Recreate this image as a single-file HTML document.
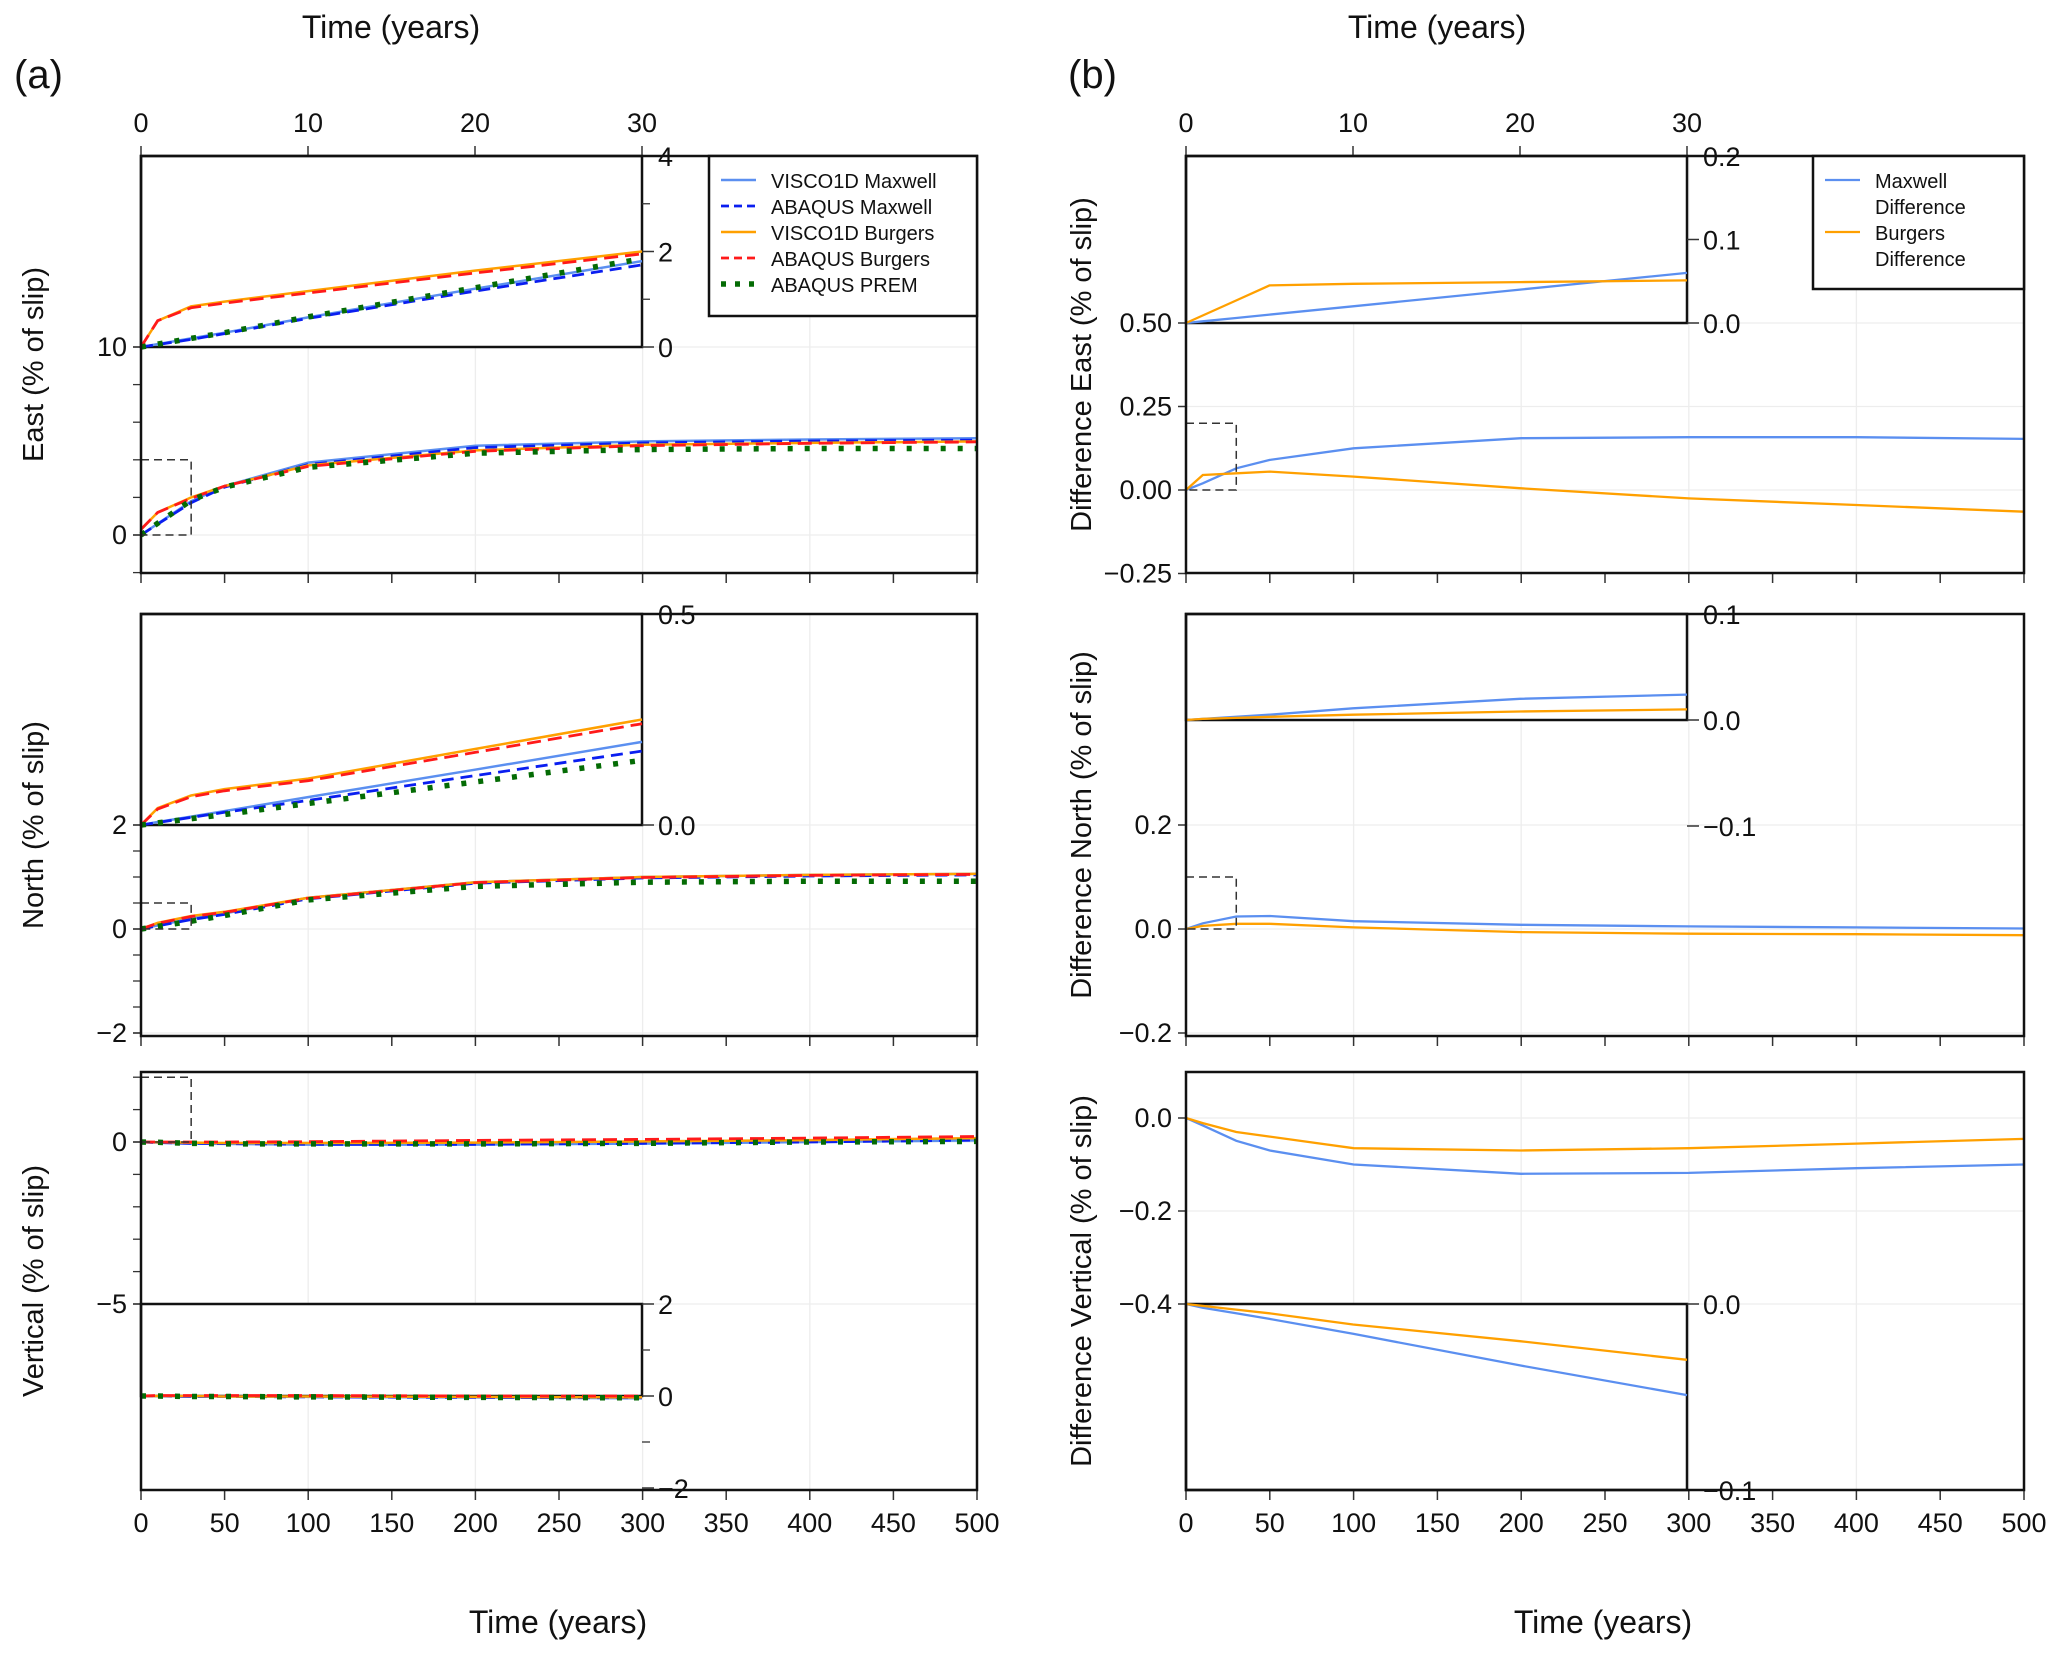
<!DOCTYPE html>
<html><head><meta charset="utf-8">
<style>
body{margin:0;background:#fff;}
svg{display:block;}
text{font-family:"Liberation Sans Narrow","Liberation Sans",sans-serif;fill:#111;}
.ttl{font-family:"Liberation Sans",sans-serif;}
</style></head>
<body>
<svg id="fig" width="2067" height="1655" viewBox="0 0 2067 1655" xmlns="http://www.w3.org/2000/svg"></svg>
<script>
// ---- data ----
const tMain=[0,10,30,50,100,200,300,400,500];
const tIn=[0,1,3,5,10,20,30];
// East (a)
const eViscoMax=[0,0.6,1.8,2.6,3.85,4.75,4.98,5.08,5.15];
const eAbqMax=[0,0.58,1.72,2.55,3.75,4.65,4.9,5.0,5.05];
const eViscoBur=[0.3,1.2,2.0,2.6,3.7,4.5,4.8,4.9,4.98];
const eAbqBur=[0.3,1.2,1.95,2.6,3.65,4.45,4.75,4.88,4.95];
const ePrem=[0,0.62,1.85,2.55,3.6,4.35,4.55,4.6,4.6];
const eInViscoMax=[0,0.06,0.18,0.3,0.62,1.22,1.8];
const eInAbqMax=[0,0.05,0.16,0.28,0.6,1.17,1.72];
const eInViscoBur=[0,0.55,0.85,0.95,1.17,1.6,2.0];
const eInAbqBur=[0,0.55,0.82,0.92,1.13,1.55,1.95];
const eInPrem=[0,0.06,0.18,0.3,0.63,1.24,1.85];
// North (a)
const nViscoMax=[0,0.07,0.2,0.3,0.6,0.9,1.0,1.04,1.06];
const nAbqMax=[0,0.06,0.18,0.28,0.58,0.88,0.98,1.02,1.04];
const nViscoBur=[0,0.12,0.25,0.33,0.6,0.9,1.0,1.04,1.06];
const nAbqBur=[0,0.11,0.24,0.32,0.59,0.89,0.99,1.03,1.05];
const nPrem=[0,0.05,0.15,0.26,0.56,0.82,0.9,0.92,0.92];
const nInViscoMax=[0,0.007,0.02,0.033,0.066,0.131,0.197];
const nInAbqMax=[0,0.006,0.018,0.03,0.058,0.117,0.175];
const nInViscoBur=[0,0.04,0.07,0.085,0.11,0.18,0.25];
const nInAbqBur=[0,0.038,0.067,0.081,0.105,0.172,0.24];
const nInPrem=[0,0.005,0.015,0.025,0.051,0.102,0.153];
// Vertical (a)
const vViscoMax=[0,-0.02,-0.05,-0.06,-0.08,-0.08,-0.05,0,0.05];
const vAbqMax=[0,-0.02,-0.04,-0.05,-0.07,-0.07,-0.04,0,0.06];
const vViscoBur=[0,-0.01,-0.02,-0.03,-0.03,-0.02,0.02,0.06,0.12];
const vAbqBur=[0,0.0,0.0,0.0,0.01,0.05,0.08,0.12,0.17];
const vPrem=[0,-0.01,-0.04,-0.06,-0.06,-0.06,-0.04,0,0.02];
const vInViscoMax=[0,0,-0.01,-0.01,-0.02,-0.03,-0.05];
const vInAbqMax=[0,0,-0.01,-0.01,-0.02,-0.03,-0.04];
const vInViscoBur=[0,0,0,-0.01,-0.01,-0.02,-0.03];
const vInAbqBur=[0,0.01,0.01,0.01,0.01,0.0,0.0];
const vInPrem=[0,0,-0.01,-0.01,-0.02,-0.03,-0.04];
// Differences (b)
const dEMax=[0,0.02,0.065,0.09,0.125,0.155,0.158,0.158,0.153];
const dEBur=[0,0.045,0.05,0.055,0.04,0.005,-0.025,-0.045,-0.065];
const dEInMax=[0,0.002,0.006,0.01,0.02,0.04,0.06];
const dEInBur=[0,0.009,0.027,0.045,0.047,0.049,0.051];
const dNMax=[0,0.011,0.024,0.025,0.015,0.008,0.005,0.003,0.001];
const dNBur=[0,0.006,0.01,0.01,0.003,-0.006,-0.009,-0.01,-0.012];
const dNInMax=[0,0.001,0.003,0.005,0.011,0.02,0.024];
const dNInBur=[0,0.001,0.002,0.003,0.005,0.008,0.01];
const dVMax=[0,-0.016,-0.049,-0.07,-0.1,-0.12,-0.118,-0.108,-0.1];
const dVBur=[0,-0.011,-0.03,-0.04,-0.065,-0.07,-0.065,-0.055,-0.045];
const dVInMax=[0,-0.002,-0.005,-0.008,-0.016,-0.033,-0.049];
const dVInBur=[0,-0.001,-0.003,-0.005,-0.011,-0.02,-0.03];
const xTickLabels=[0,50,100,150,200,250,300,350,400,450,500];
const xInsetTicks=[0,10,20,30];

const NS='http://www.w3.org/2000/svg';
const svg=document.getElementById('fig');
function el(tag,attrs,parent){const e=document.createElementNS(NS,tag);for(const k in attrs)e.setAttribute(k,attrs[k]);(parent||svg).appendChild(e);return e;}
function txt(s,x,y,size,anchor,parent,cls){const t=el('text',{x:x,y:y,'font-size':size,'text-anchor':anchor||'middle'},parent);if(cls)t.setAttribute('class',cls);t.textContent=s;return t;}
function lin(d0,d1,r0,r1){return v=>r0+(v-d0)*(r1-r0)/(d1-d0);}

const STY={
 viscoMax:{stroke:'#5b8ff0',w:2.5,dash:''},
 abqMax:{stroke:'#0a1ef0',w:2.8,dash:'12 7'},
 viscoBur:{stroke:'#ffa000',w:2.5,dash:''},
 abqBur:{stroke:'#ff1a1a',w:2.8,dash:'14 7'},
 prem:{stroke:'#046b04',w:5.5,dash:'5 12'},
 maxDiff:{stroke:'#5b8ff0',w:2.3,dash:''},
 burDiff:{stroke:'#ffa000',w:2.3,dash:''}
};
function line(xs,ys,sx,sy,sty,name,g){
 const p=el('polyline',{points:xs.map((t,i)=>sx(t).toFixed(1)+','+sy(ys[i]).toFixed(1)).join(' '),fill:'none',stroke:sty.stroke,'stroke-width':sty.w,'stroke-dasharray':sty.dash},g);
 
 
}

function panel(o){
 const g=el('g',{});
 
 
 const sx=lin(0,500,o.L,o.R), sy=lin(o.y0[0],o.y1[0],o.y0[1],o.y1[1]);
 for(let t=100;t<500;t+=100) el('line',{x1:sx(t),x2:sx(t),y1:o.T,y2:o.B,stroke:'#ededed','stroke-width':1.3},g);
 o.yMajor.forEach(v=>el('line',{x1:o.L,x2:o.R,y1:sy(v),y2:sy(v),stroke:'#ededed','stroke-width':1.3},g));
 for(let t=0;t<=500;t+=50) el('line',{x1:sx(t),x2:sx(t),y1:o.B,y2:o.B+10,stroke:'#333','stroke-width':1.5},g);
 o.yMinor.forEach(v=>el('line',{x1:o.L-8,x2:o.L,y1:sy(v),y2:sy(v),stroke:'#333','stroke-width':1.3},g));
 o.yMajor.forEach((v,i)=>{el('line',{x1:o.L-8,x2:o.L,y1:sy(v),y2:sy(v),stroke:'#333','stroke-width':1.5},g);
   const t=txt(o.yLabels[i],o.L-14,sy(v)+9,27,'end',g);
   
   });
 o.series.forEach(s=>line(tMain,s.v,sx,sy,STY[s.s],s.n,g));
 el('rect',{x:sx(0),y:sy(o.iy1[0]),width:sx(30)-sx(0),height:sy(o.iy0[0])-sy(o.iy1[0]),fill:'none',stroke:'#333','stroke-width':1.5,'stroke-dasharray':'8 5'},g);
 const isx=lin(0,30,o.L,o.IR), isy=lin(o.iy0[0],o.iy1[0],o.iy0[1],o.iy1[1]);
 const iT=Math.min(o.iy0[1],o.iy1[1]), iB=Math.max(o.iy0[1],o.iy1[1]);
 const ig=el('g',{},g);
 
 
 el('rect',{x:o.L,y:iT,width:o.IR-o.L,height:iB-iT,fill:'#fff',stroke:'#111','stroke-width':2.5},ig);
 o.iSeries.forEach(s=>line(tIn,s.v,isx,isy,STY[s.s],s.n+'-inset',ig));
 o.iMinor.forEach(v=>el('line',{x1:o.IR,x2:o.IR+8,y1:isy(v),y2:isy(v),stroke:'#333','stroke-width':1.3},ig));
 o.iTicks.forEach((v,i)=>{el('line',{x1:o.IR,x2:o.IR+12,y1:isy(v),y2:isy(v),stroke:'#333','stroke-width':1.5},ig);
   const t=txt(o.iLabels[i],o.IR+16,isy(v)+10,27,'start',ig);
   
   });
 if(o.topTicks){xInsetTicks.forEach(t=>{el('line',{x1:isx(t),x2:isx(t),y1:o.T,y2:o.T-10,stroke:'#333','stroke-width':1.5},g);
   const tt=txt(String(t),isx(t),o.T-24,27,'middle',g);
   
   });}
 el('rect',{x:o.L,y:o.T,width:o.R-o.L,height:o.B-o.T,fill:'none',stroke:'#111','stroke-width':2.5},g);
 if(o.xLabels){xTickLabels.forEach(t=>{const tt=txt(String(t),sx(t),o.B+42,27,'middle',g);
   
   });}
 const yt=txt(o.ytitle,o.tx,(o.T+o.B)/2,29,'middle',g,'ttl');
 yt.setAttribute('transform','rotate(-90 '+o.tx+' '+(o.T+o.B)/2+')');
 yt.setAttribute('dy','10');
 
 
 return g;
}
const M='\u2212';
const A={L:141,R:977,IR:642,tx:33}, B={L:1186,R:2024,IR:1687,tx:1081};
const rows=[{T:156,B:573},{T:614,B:1036},{T:1072,B:1490}];
function range(a,b,s){const r=[];for(let v=a;v<=b+1e-9;v+=s)r.push(+v.toFixed(4));return r;}

panel(Object.assign({},A,rows[0],{name:'east-panel',ytitle:'East (% of slip)',topTicks:true,
 y0:[0,535],y1:[10,347],yMajor:[0,10],yLabels:['0','10'],yMinor:range(-2,10,2),
 iy0:[0,347],iy1:[4,156],iTicks:[0,2,4],iLabels:['0','2','4'],iMinor:[1,3],
 series:[{v:eViscoMax,s:'viscoMax',n:'visco1d-maxwell-east'},{v:eAbqMax,s:'abqMax',n:'abaqus-maxwell-east'},{v:eViscoBur,s:'viscoBur',n:'visco1d-burgers-east'},{v:eAbqBur,s:'abqBur',n:'abaqus-burgers-east'},{v:ePrem,s:'prem',n:'abaqus-prem-east'}],
 iSeries:[{v:eInViscoMax,s:'viscoMax',n:'visco1d-maxwell-east'},{v:eInAbqMax,s:'abqMax',n:'abaqus-maxwell-east'},{v:eInViscoBur,s:'viscoBur',n:'visco1d-burgers-east'},{v:eInAbqBur,s:'abqBur',n:'abaqus-burgers-east'},{v:eInPrem,s:'prem',n:'abaqus-prem-east'}]}));
panel(Object.assign({},A,rows[1],{name:'north-panel',ytitle:'North (% of slip)',
 y0:[0,929],y1:[2,825],yMajor:[-2,0,2],yLabels:[M+'2','0','2'],yMinor:range(-2,2,0.5),
 iy0:[0,825],iy1:[0.5,614],iTicks:[0,0.5],iLabels:['0.0','0.5'],iMinor:[],
 series:[{v:nViscoMax,s:'viscoMax',n:'visco1d-maxwell-north'},{v:nAbqMax,s:'abqMax',n:'abaqus-maxwell-north'},{v:nViscoBur,s:'viscoBur',n:'visco1d-burgers-north'},{v:nAbqBur,s:'abqBur',n:'abaqus-burgers-north'},{v:nPrem,s:'prem',n:'abaqus-prem-north'}],
 iSeries:[{v:nInViscoMax,s:'viscoMax',n:'visco1d-maxwell-north'},{v:nInAbqMax,s:'abqMax',n:'abaqus-maxwell-north'},{v:nInViscoBur,s:'viscoBur',n:'visco1d-burgers-north'},{v:nInAbqBur,s:'abqBur',n:'abaqus-burgers-north'},{v:nInPrem,s:'prem',n:'abaqus-prem-north'}]}));
panel(Object.assign({},A,rows[2],{name:'vertical-panel',ytitle:'Vertical (% of slip)',xLabels:true,
 y0:[0,1142],y1:[-5,1304],yMajor:[0,-5],yLabels:['0',M+'5'],yMinor:range(-5,2,1),
 iy0:[0,1396],iy1:[2,1304],iTicks:[-2,0,2],iLabels:[M+'2','0','2'],iMinor:[-1,1],
 series:[{v:vViscoMax,s:'viscoMax',n:'visco1d-maxwell-vertical'},{v:vAbqMax,s:'abqMax',n:'abaqus-maxwell-vertical'},{v:vViscoBur,s:'viscoBur',n:'visco1d-burgers-vertical'},{v:vAbqBur,s:'abqBur',n:'abaqus-burgers-vertical'},{v:vPrem,s:'prem',n:'abaqus-prem-vertical'}],
 iSeries:[{v:vInViscoMax,s:'viscoMax',n:'visco1d-maxwell-vertical'},{v:vInAbqMax,s:'abqMax',n:'abaqus-maxwell-vertical'},{v:vInViscoBur,s:'viscoBur',n:'visco1d-burgers-vertical'},{v:vInAbqBur,s:'abqBur',n:'abaqus-burgers-vertical'},{v:vInPrem,s:'prem',n:'abaqus-prem-vertical'}]}));
panel(Object.assign({},B,rows[0],{name:'diff-east-panel',ytitle:'Difference East (% of slip)',topTicks:true,
 y0:[0,490],y1:[0.5,323],yMajor:[-0.25,0,0.25,0.5],yLabels:[M+'0.25','0.00','0.25','0.50'],yMinor:[],
 iy0:[0,323],iy1:[0.2,156],iTicks:[0,0.1,0.2],iLabels:['0.0','0.1','0.2'],iMinor:[],
 series:[{v:dEMax,s:'maxDiff',n:'maxwell-difference-east'},{v:dEBur,s:'burDiff',n:'burgers-difference-east'}],
 iSeries:[{v:dEInMax,s:'maxDiff',n:'maxwell-difference-east'},{v:dEInBur,s:'burDiff',n:'burgers-difference-east'}]}));
panel(Object.assign({},B,rows[1],{name:'diff-north-panel',ytitle:'Difference North (% of slip)',
 y0:[0,929],y1:[0.2,825],yMajor:[-0.2,0,0.2],yLabels:[M+'0.2','0.0','0.2'],yMinor:[],
 iy0:[0,720],iy1:[0.1,614],iTicks:[-0.1,0,0.1],iLabels:[M+'0.1','0.0','0.1'],iMinor:[],
 series:[{v:dNMax,s:'maxDiff',n:'maxwell-difference-north'},{v:dNBur,s:'burDiff',n:'burgers-difference-north'}],
 iSeries:[{v:dNInMax,s:'maxDiff',n:'maxwell-difference-north'},{v:dNInBur,s:'burDiff',n:'burgers-difference-north'}]}));
panel(Object.assign({},B,rows[2],{name:'diff-vertical-panel',ytitle:'Difference Vertical (% of slip)',xLabels:true,
 y0:[0,1118],y1:[-0.4,1304],yMajor:[0,-0.2,-0.4],yLabels:['0.0',M+'0.2',M+'0.4'],yMinor:[],
 iy0:[0,1304],iy1:[-0.1,1490],iTicks:[0,-0.1],iLabels:['0.0',M+'0.1'],iMinor:[],
 series:[{v:dVMax,s:'maxDiff',n:'maxwell-difference-vertical'},{v:dVBur,s:'burDiff',n:'burgers-difference-vertical'}],
 iSeries:[{v:dVInMax,s:'maxDiff',n:'maxwell-difference-vertical'},{v:dVInBur,s:'burDiff',n:'burgers-difference-vertical'}]}));

[['(a)',40,88,40,'panel-label-a'],['(b)',1094,88,40,'panel-label-b'],
 ['Time (years)',391,38,32,'inset-x-title-a'],['Time (years)',1437,38,32,'inset-x-title-b'],
 ['Time (years)',558,1633,32,'x-axis-title-a'],['Time (years)',1603,1633,32,'x-axis-title-b']].forEach(a=>{
 const t=txt(a[0],a[1],a[2],a[3],a[0].startsWith('(')?'start':'middle');
 if(a[0].startsWith('('))t.setAttribute('x',a[1]-26);
 
 
});

function legend(x,y,w,h,items,name){
 const g=el('g',{});
 
 
 el('rect',{x:x,y:y,width:w,height:h,fill:'#fff',stroke:'#111','stroke-width':2.5},g);
 items.forEach((it,i)=>{const yy=y+it.dy;
  el('line',{x1:x+12,x2:x+47,y1:yy,y2:yy,stroke:STY[it.s].stroke,'stroke-width':STY[it.s].w,'stroke-dasharray':it.s==='prem'?'5 9':(it.s.startsWith('abq')?'8 5':'')},g);
  it.lines.forEach((l,j)=>{const t=txt(l,x+62,yy+8+j*26,20,'start',g);
   
   });
 });
}
legend(709,156,268,160,[{s:'viscoMax',dy:24,lines:['VISCO1D Maxwell']},{s:'abqMax',dy:50,lines:['ABAQUS Maxwell']},{s:'viscoBur',dy:76,lines:['VISCO1D Burgers']},{s:'abqBur',dy:102,lines:['ABAQUS Burgers']},{s:'prem',dy:128,lines:['ABAQUS PREM']}],'legend-a');
legend(1813,156,211,133,[{s:'maxDiff',dy:24,lines:['Maxwell','Difference']},{s:'burDiff',dy:76,lines:['Burgers','Difference']}],'legend-b');
</script>
</body></html>
